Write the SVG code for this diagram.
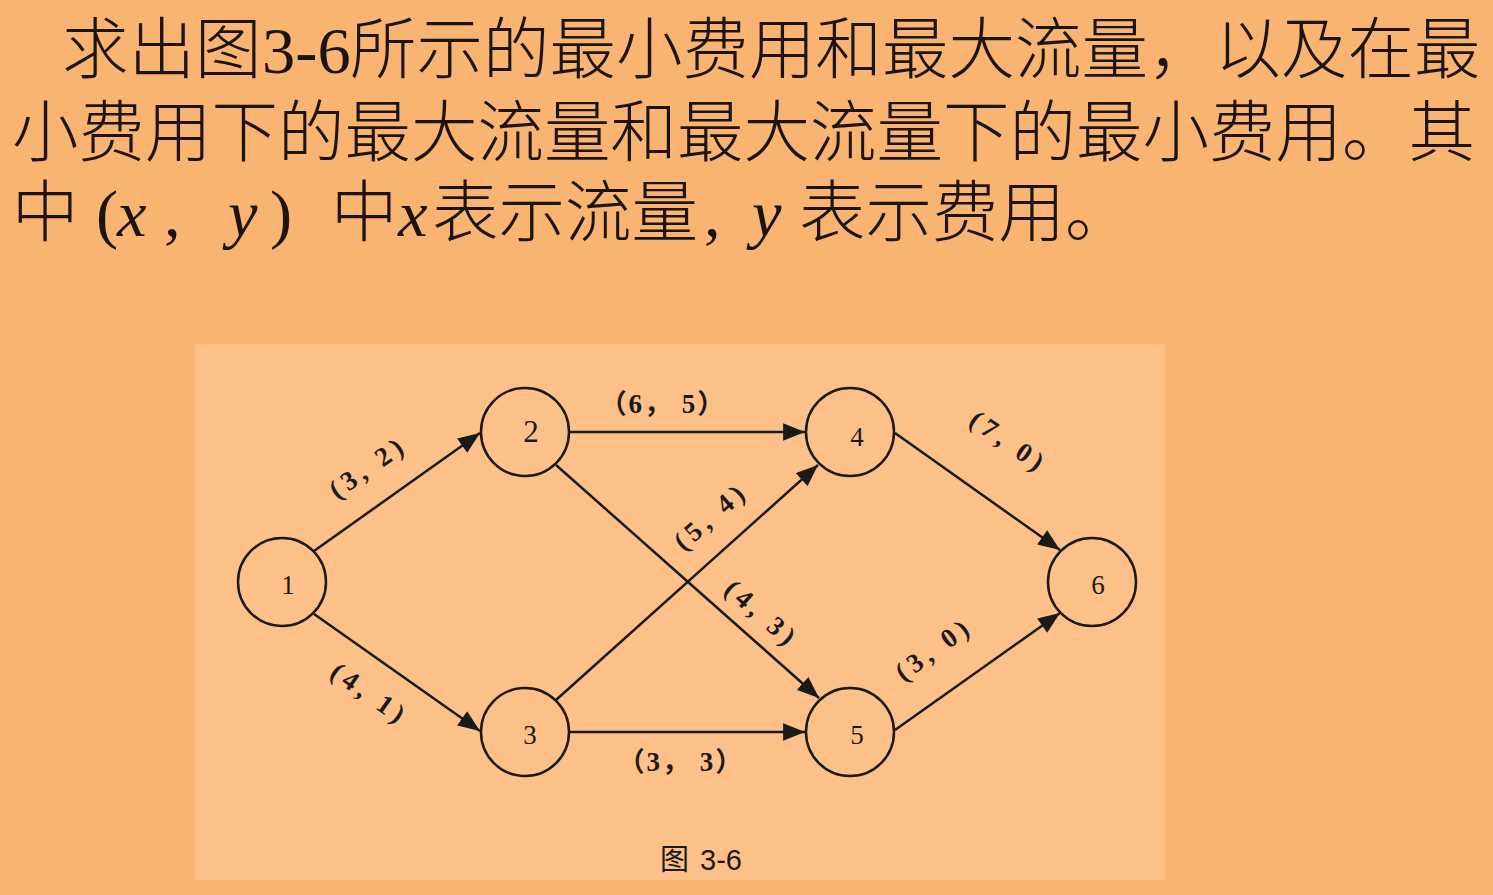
<svg xmlns="http://www.w3.org/2000/svg" width="1493" height="895" viewBox="0 0 1493 895">
<style>
.t{font-family:"Liberation Serif","Noto Sans CJK SC",serif;font-size:66.5px;font-weight:300;fill:#1c1410}
.i{font-style:italic;font-weight:normal}
.nd{fill:none;stroke:#1a1a1a;stroke-width:2.5}
.nl{font-family:"Liberation Serif",serif;font-size:27px;fill:#1a1a1a;text-anchor:middle;dominant-baseline:central}
.el{font-family:"Liberation Serif","Noto Sans CJK SC",serif;font-size:27px;font-weight:bold;fill:#1a1a1a;text-anchor:middle;dominant-baseline:central}
.er{letter-spacing:5px}
.eh{letter-spacing:2px}
.e{stroke:#1a1a1a;stroke-width:2.5;fill:none;marker-end:url(#ah)}
</style>
<defs>
<marker id="ah" viewBox="0 0 10 8" refX="10" refY="4" markerWidth="9" markerHeight="7" markerUnits="strokeWidth" orient="auto">
<path d="M0,0 L10,4 L0,8 Z" fill="#1a1a1a"/>
</marker>
</defs>
<rect width="1493" height="895" fill="#F8B470"/>
<g id="title">
<text class="t" y="73"><tspan x="62">求出图</tspan><tspan x="262" style="font-weight:normal">3-6</tspan><tspan x="350">所示的最小费用和最大流量，以及在最</tspan></text>
<text class="t" x="12" y="156">小费用下的最大流量和最大流量下的最小费用。其</text>
<text class="t" y="236"><tspan x="12">中</tspan><tspan x="96" style="font-weight:normal">(</tspan><tspan x="117" class="i">x</tspan><tspan x="164" style="font-weight:normal">,</tspan><tspan x="228" class="i">y</tspan><tspan x="270" style="font-weight:normal">)</tspan><tspan x="331">中</tspan><tspan x="398" class="i">x</tspan><tspan x="432">表示流量</tspan><tspan x="704" style="font-weight:normal">,</tspan><tspan x="752" class="i">y</tspan><tspan x="799">表示费用。</tspan></text>
</g>
<rect id="panel" x="195" y="344" width="970" height="536" fill="#FEC089"/>
<g id="connectors">
<line class="e" x1="314" y1="551" x2="480" y2="433"/>
<line class="e" x1="314" y1="614" x2="480" y2="731"/>
<line class="e" x1="570" y1="432" x2="805" y2="432"/>
<line class="e" x1="556" y1="465" x2="819" y2="698"/>
<line class="e" x1="556" y1="700" x2="818" y2="465"/>
<line class="e" x1="570" y1="732" x2="805" y2="732"/>
<line class="e" x1="895" y1="433" x2="1060" y2="550"/>
<line class="e" x1="895" y1="730" x2="1060" y2="613"/>
<text class="el er" transform="translate(368,467) rotate(-35)">(3, 2)</text>
<text class="el er" transform="translate(370,694) rotate(35)">(4, 1)</text>
<text class="el eh" x="663" y="404">（6， 5）</text>
<text class="el er" transform="translate(711,516) rotate(-41)">(5, 4)</text>
<text class="el er" transform="translate(762,614) rotate(41)">(4, 3)</text>
<text class="el eh" x="681" y="762">（3， 3）</text>
<text class="el er" transform="translate(1009,442) rotate(35)">(7, 0)</text>
<text class="el er" transform="translate(934,649) rotate(-36)">(3, 0)</text>
</g>
<g id="n1"><circle class="nd" cx="282" cy="582" r="44"/><text class="nl" x="288" y="585">1</text></g>
<g id="n2"><circle class="nd" cx="525" cy="432" r="44"/><text class="nl" x="531" y="431" style="font-size:31px">2</text></g>
<g id="n3"><circle class="nd" cx="525" cy="732" r="44"/><text class="nl" x="530" y="735">3</text></g>
<g id="n4"><circle class="nd" cx="850" cy="432" r="44"/><text class="nl" x="857" y="437">4</text></g>
<g id="n5"><circle class="nd" cx="850" cy="732" r="44"/><text class="nl" x="857" y="735">5</text></g>
<g id="n6"><circle class="nd" cx="1092" cy="582" r="44"/><text class="nl" x="1098" y="585">6</text></g>
<text id="caption" y="870" style="font-size:29px;fill:#1a1a1a"><tspan x="660" style="font-family:'Noto Sans CJK SC',sans-serif">图</tspan><tspan x="700" style="font-family:'Liberation Sans',sans-serif">3-6</tspan></text>
</svg>
